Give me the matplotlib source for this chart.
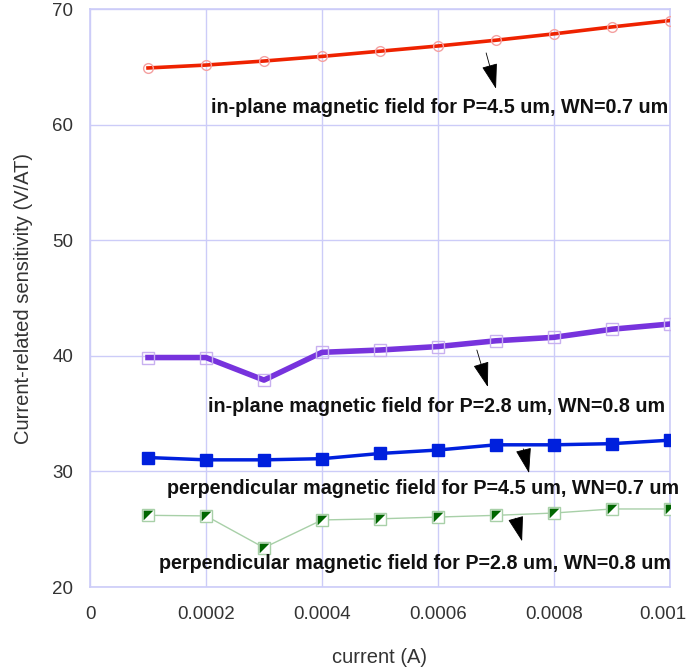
import numpy as np
import matplotlib
matplotlib.use("Agg")
import matplotlib.pyplot as plt
import matplotlib.transforms as mtrans
from matplotlib.path import Path

plt.rcParams['font.family'] = ['Liberation Sans', 'DejaVu Sans']

current = [0.0001, 0.0002, 0.0003, 0.0004, 0.0005, 0.0006, 0.0007, 0.0008, 0.0009, 0.001]
inplane_45 = [64.9, 65.15, 65.5, 65.9, 66.35, 66.8, 67.3, 67.85, 68.45, 69.0]
inplane_28 = [39.85, 39.85, 37.9, 40.3, 40.5, 40.8, 41.3, 41.6, 42.3, 42.75]
perp_45 = [31.2, 31.0, 31.0, 31.1, 31.55, 31.85, 32.3, 32.3, 32.4, 32.7]
perp_28 = [26.2, 26.15, 23.4, 25.8, 25.9, 26.05, 26.2, 26.4, 26.75, 26.75]

labels = ["in-plane magnetic field for P=4.5 um, WN=0.7 um",
          "in-plane magnetic field for P=2.8 um, WN=0.8 um",
          "perpendicular magnetic field for P=4.5 um, WN=0.7 um",
          "perpendicular magnetic field for P=2.8 um, WN=0.8 um"]
label_pos = [(0.000603, 61.5), (0.000598, 35.6), (0.000574, 28.55), (0.00056, 22.0)]
arrow_from = [(0.000683, 66.2), (0.000667, 40.5), (0.000747, 31.95), (0.000734, 25.95)]
arrow_to = [(0.0007, 63.1), (0.000686, 37.3), (0.000757, 29.85), (0.000745, 23.95)]

fig = plt.figure(figsize=(6.91, 6.72), dpi=100)
ax = fig.add_axes([90/691, 85/672, 580/691, 578/672])

grid_c = '#ccccf8'
ax.plot(current, inplane_45, color='#ee2200', lw=2.6, marker='o', ms=7,
        mfc='none', mec='#f4a0a0', mew=1, zorder=3)
ax.plot(current, inplane_28, color='#7733dd', lw=4, marker='s', ms=8,
        mfc='none', mec='#c8b0f0', mew=1, zorder=3)
ax.plot(current, perp_45, color='#0020dd', lw=2.5, marker='s', ms=9,
        mfc='#0020dd', mec='#0020dd', zorder=3)

# green: square with dark upper-left triangle
tri = Path([(-1, 1), (1, 1), (-1, -1), (-1, 1)],
           [Path.MOVETO, Path.LINETO, Path.LINETO, Path.CLOSEPOLY])
ax.plot(current, perp_28, color='#a8d0a8', lw=1, marker='s', ms=9,
        mfc='white', mec='#a8d0a8', mew=1, zorder=3)
ax.plot(current, perp_28, ls='none', marker=tri, ms=7,
        mfc='#006600', mec='none', zorder=4)

for txt, p, a, b in zip(labels, label_pos, arrow_from, arrow_to):
    ax.text(p[0], p[1], txt, ha='center', va='center', fontsize=14.2,
            fontweight='bold', color='#111111', zorder=5)
    ax.annotate('', xy=b, xytext=a,
                arrowprops=dict(arrowstyle='-|>,head_length=1.6,head_width=0.5',
                                color='black', lw=0.6, shrinkA=0, shrinkB=0))

ax.set_xlim(0, 0.001)
ax.set_ylim(20, 70)
ax.set_xticks([0, 0.0002, 0.0004, 0.0006, 0.0008, 0.001])
ax.set_xticklabels(['0', '0.0002', '0.0004', '0.0006', '0.0008', '0.001'])
ax.set_yticks([20, 30, 40, 50, 60, 70])
ax.grid(True, color=grid_c, lw=1)
ax.set_axisbelow(True)
for s in ax.spines.values():
    s.set_color(grid_c)
    s.set_linewidth(1.2)
ax.tick_params(length=0, labelsize=13.5, labelcolor='#333333', pad=12)
ax.tick_params(axis='x', pad=14)
ax.set_xlabel('current (A)', fontsize=14.5, color='#333333', labelpad=18)
ax.set_ylabel('Current-related sensitivity (V/AT)', fontsize=14.5, color='#333333', labelpad=14)

# keep the last x tick label inside the figure
last = ax.get_xticklabels()[-1]
last.set_transform(last.get_transform() + mtrans.ScaledTranslation(-5/72, 0, fig.dpi_scale_trans))

fig.savefig('out.png', dpi=100)
